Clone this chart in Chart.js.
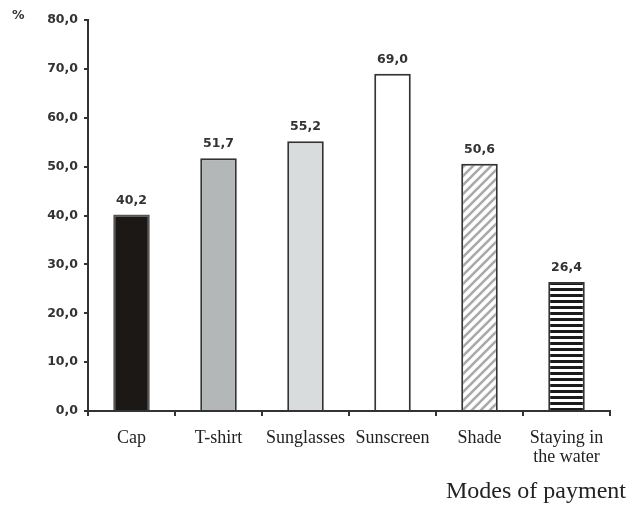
<!DOCTYPE html>
<html>
<head>
<meta charset="utf-8">
<script src="https://cdn.jsdelivr.net/npm/chart.js@4.4.0/dist/chart.umd.min.js"></script>
<style>
  body { margin: 0; background: #fff; }
  #wrap { position: relative; width: 636px; height: 505px; }
  #pct { position: absolute; left: 12px; top: 7px; font: bold 12.5px "DejaVu Sans", sans-serif; color: #333; }
  #xtitle { position: absolute; right: 10px; top: 478px; font: 24px "Liberation Serif", serif; line-height: 1; color: #222; }
</style>
</head>
<body>
<div id="wrap">
  <canvas id="chart" width="636" height="505"></canvas>
  <div id="pct">%</div>
  <div id="xtitle">Modes of payment</div>
</div>
<script>
// data
const categories = ["Cap", "T-shirt", "Sunglasses", "Sunscreen", "Shade", ["Staying in", "the water"]];
const values = [40.2, 51.7, 55.2, 69.0, 50.6, 26.4];
const yTicks = [0, 10, 20, 30, 40, 50, 60, 70, 80];

const fmt = v => v.toFixed(1).replace(".", ",");

// hatch patterns
function diagPattern() {
  const s = 9;
  const c = document.createElement("canvas");
  c.width = s; c.height = s;
  const g = c.getContext("2d");
  g.fillStyle = "#fff";
  g.fillRect(0, 0, s, s);
  g.strokeStyle = "#a9a9a9";
  g.lineWidth = 2.6;
  g.beginPath();
  for (const o of [-s, 0, s]) {
    g.moveTo(o - 1, s + 1); g.lineTo(o + s + 1, -1);
  }
  g.stroke();
  return g.createPattern(c, "repeat");
}
function stripePattern() {
  const c = document.createElement("canvas");
  c.width = 4; c.height = 6;
  const g = c.getContext("2d");
  g.fillStyle = "#fff";
  g.fillRect(0, 0, 4, 6);
  g.fillStyle = "#1a1a1a";
  g.fillRect(0, 0, 4, 3);
  return g.createPattern(c, "repeat");
}

const fills = ["#1c1816", "#b3b7b7", "#d8dcdc", "#ffffff", diagPattern(), stripePattern()];
const borders = ["#555", "#333", "#333", "#333", "#333", "#333"];

const valueLabels = {
  id: "valueLabels",
  afterDatasetsDraw(chart) {
    const ctx = chart.ctx;
    const meta = chart.getDatasetMeta(0);
    ctx.save();
    ctx.font = "bold 12.5px 'DejaVu Sans', sans-serif";
    ctx.fillStyle = "#333";
    ctx.textAlign = "center";
    ctx.textBaseline = "alphabetic";
    meta.data.forEach((bar, i) => {
      ctx.fillText(fmt(values[i]), bar.x, bar.y - 11);
    });
    ctx.restore();
  }
};

new Chart(document.getElementById("chart"), {
  type: "bar",
  data: {
    labels: categories,
    datasets: [{
      data: values,
      backgroundColor: fills,
      borderColor: borders,
      borderWidth: 2,
      barPercentage: 0.42,
      categoryPercentage: 1
    }]
  },
  options: {
    responsive: false,
    animation: false,
    layout: { padding: { top: 20, right: 26, left: 0, bottom: 0 } },
    plugins: { legend: { display: false }, tooltip: { enabled: false } },
    scales: {
      x: {
        grid: { display: true, offset: true, drawOnChartArea: false, drawTicks: true, tickLength: 5, color: "#333", lineWidth: 2 },
        border: { color: "#333", width: 2 },
        ticks: {
          color: "#222",
          font: { family: "'Liberation Serif', serif", size: 18, lineHeight: 1.1 },
          padding: 12,
          maxRotation: 0,
          autoSkip: false
        },
        afterFit(scale) { scale.height = 94; }
      },
      y: {
        min: 0,
        max: 80,
        afterBuildTicks(scale) { scale.ticks = yTicks.map(v => ({ value: v })); },
        grid: { display: true, drawOnChartArea: false, drawTicks: true, tickLength: 4, color: "#333", lineWidth: 2 },
        border: { color: "#333", width: 2 },
        ticks: {
          color: "#333",
          font: { family: "'DejaVu Sans', sans-serif", size: 12.5, weight: "bold" },
          padding: 6,
          callback: v => fmt(v)
        },
        afterFit(scale) { scale.width = 88; }
      }
    }
  },
  plugins: [valueLabels]
});
</script>
</body>
</html>
